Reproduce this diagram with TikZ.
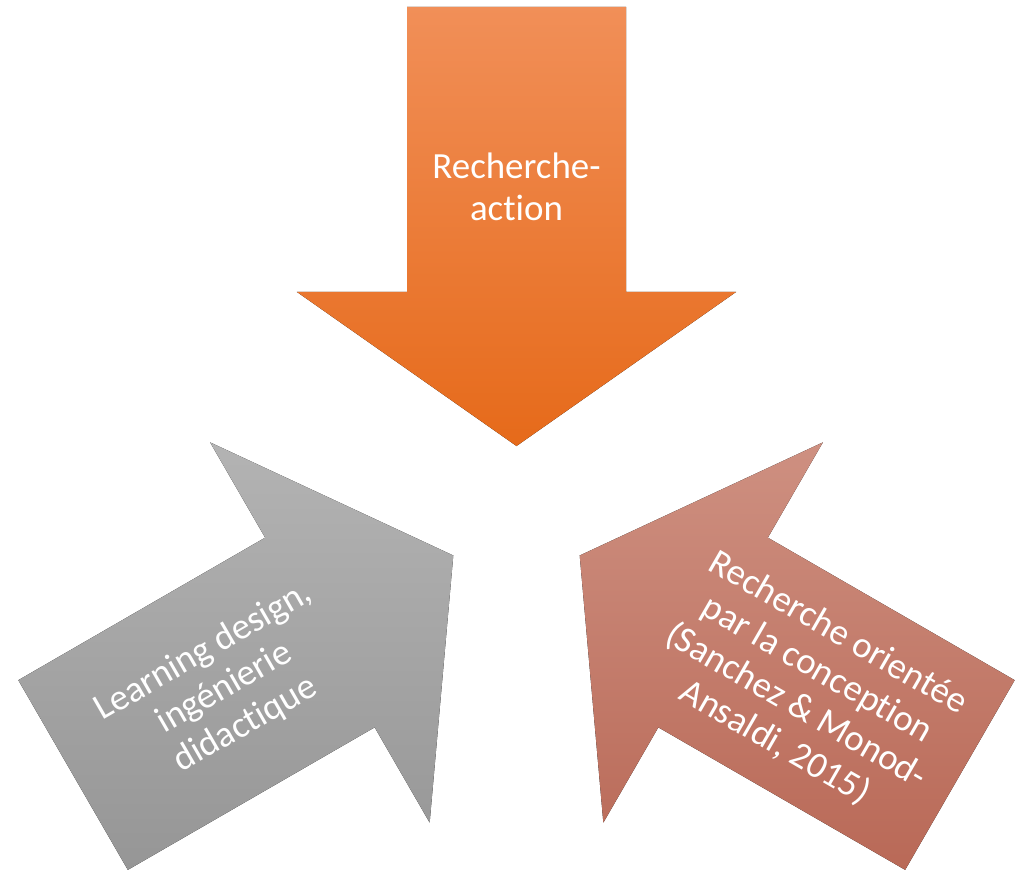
\documentclass[tikz,border=0pt]{standalone}
\usepackage{fontspec}
\setmainfont{Carlito}[Ligatures=NoCommon]
\usepackage{tikz}
\newcommand{\arrowshape}{(-109.5, 512) -- (109.5, 512) -- (109.5, 227) -- (219.5, 227) -- (0, 73) -- (-219.5, 227) -- (-109.5, 227) -- cycle}
\definecolor{actiontop}{RGB}{241,143,88}
\definecolor{actionbottom}{RGB}{230,106,26}
\definecolor{designtop}{RGB}{179,179,179}
\definecolor{designbottom}{RGB}{150,150,150}
\definecolor{conceptiontop}{RGB}{206,144,129}
\definecolor{conceptionbottom}{RGB}{185,105,87}
\tikzstyle{arrowlabel}=[text=white, align=center, inner sep=0, font=\fontsize{21}{24}\selectfont]
\tikzstyle{triad}=[x=0.02cm, y=0.02cm,
                   % Fix the margins of the picture.
                   execute at begin picture={\useasboundingbox (-516.5, -353) rectangle (506.5, 519);}]
\begin{document}
\begin{tikzpicture}[triad]
        \fill[top color=actiontop, bottom color=actionbottom] \arrowshape;
        \begin{scope}[rotate=120]
            \fill[top color=designtop, bottom color=designbottom] \arrowshape;
        \end{scope}
        \begin{scope}[rotate=-120]
            \fill[top color=conceptiontop, bottom color=conceptionbottom] \arrowshape;
        \end{scope}
        \node[arrowlabel]             (action)     at (0, 332)     {Recherche-\\action};
        \node[arrowlabel, rotate=30]  (design)     at (-292, -169) {Learning design,\\ingénierie\\didactique};
        \node[arrowlabel, rotate=-30] (conception) at (290, -169)  {Recherche orientée\\par la conception\\(Sanchez \& Monod-\\Ansaldi, 2015)};
    \end{tikzpicture}
\end{document}
